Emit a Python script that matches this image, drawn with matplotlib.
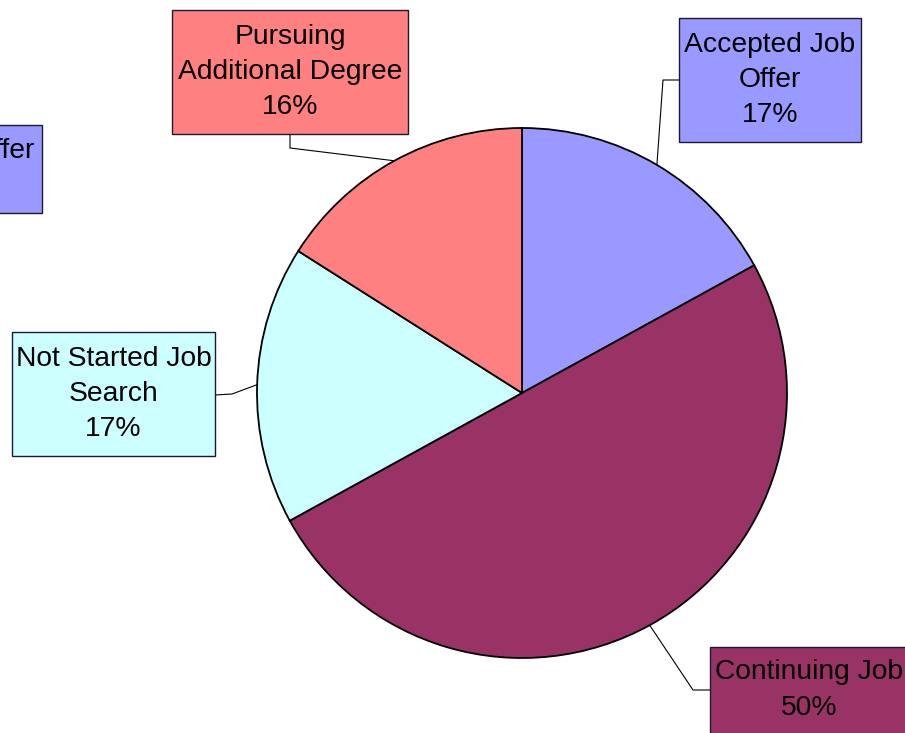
import numpy as np
import matplotlib
matplotlib.use("Agg")
import matplotlib.pyplot as plt
from matplotlib.patches import Rectangle

# Data
categories = ["Accepted Job\nOffer", "Continuing Job", "Not Started Job\nSearch", "Pursuing\nAdditional Degree"]
values = [17, 50, 17, 16]
colors = ["#9999FF", "#993366", "#CCFFFF", "#FF8080"]

W, H = 905, 733
fig = plt.figure(figsize=(W / 100, H / 100), dpi=100)
ax = fig.add_axes([0, 0, 1, 1])
plt.rcParams['font.family'] = ['Liberation Sans', 'DejaVu Sans']

cx, cy, R = 522, H - 393, 265
wedges, _ = ax.pie(values, colors=colors, startangle=90, counterclock=False,
                   center=(cx, cy), radius=R,
                   wedgeprops=dict(edgecolor="black", linewidth=1.3))
ax.set_xlim(0, W)
ax.set_ylim(0, H)
ax.set_aspect("equal")
ax.axis("off")

# label boxes: (x0, y0_top, x1, y1_bottom) in pixel coords from top, elbow point
boxes = [
    dict(rect=(679, 18, 861, 142), elbow=[(679, 80), (663, 80)]),
    dict(rect=(710, 647, 908, 740), elbow=[(710, 690), (693, 690)], text_center=(809, 690)),
    dict(rect=(12, 332, 215, 456), elbow=[(215, 395), (232, 394)]),
    dict(rect=(172, 10, 408, 134), elbow=[(290, 134), (290, 148)]),
]

fs = 20.3
for i, (w, b) in enumerate(zip(wedges, boxes)):
    x0, t, x1, bt = b["rect"]
    ax.add_patch(Rectangle((x0, H - bt), x1 - x0, bt - t, facecolor=colors[i],
                           edgecolor="#1a1a33", linewidth=1.0, zorder=3))
    mid = np.deg2rad((w.theta1 + w.theta2) / 2)
    ex, ey = cx + R * np.cos(mid), cy + R * np.sin(mid)
    pts = [(px, H - py) for px, py in b["elbow"]] + [(ex, ey)]
    ax.plot([p[0] for p in pts], [p[1] for p in pts], color="black", lw=0.8, zorder=2)
    tcx, tcy = b.get("text_center", ((x0 + x1) / 2, (t + bt) / 2))
    ax.text(tcx, H - tcy, f"{categories[i]}\n{values[i]}%", ha="center", va="center",
            fontsize=fs, linespacing=1.47, zorder=4, color="black")

# partially visible stray label on the left edge
ax.add_patch(Rectangle((-100, H - 213), 142, 88, facecolor=colors[0],
                       edgecolor="#1a1a33", linewidth=1.0, zorder=3, clip_on=True))
ax.text(35, H - 151, "ffer", ha="right", va="center", fontsize=fs, zorder=4)

fig.savefig("out.png", dpi=100)
